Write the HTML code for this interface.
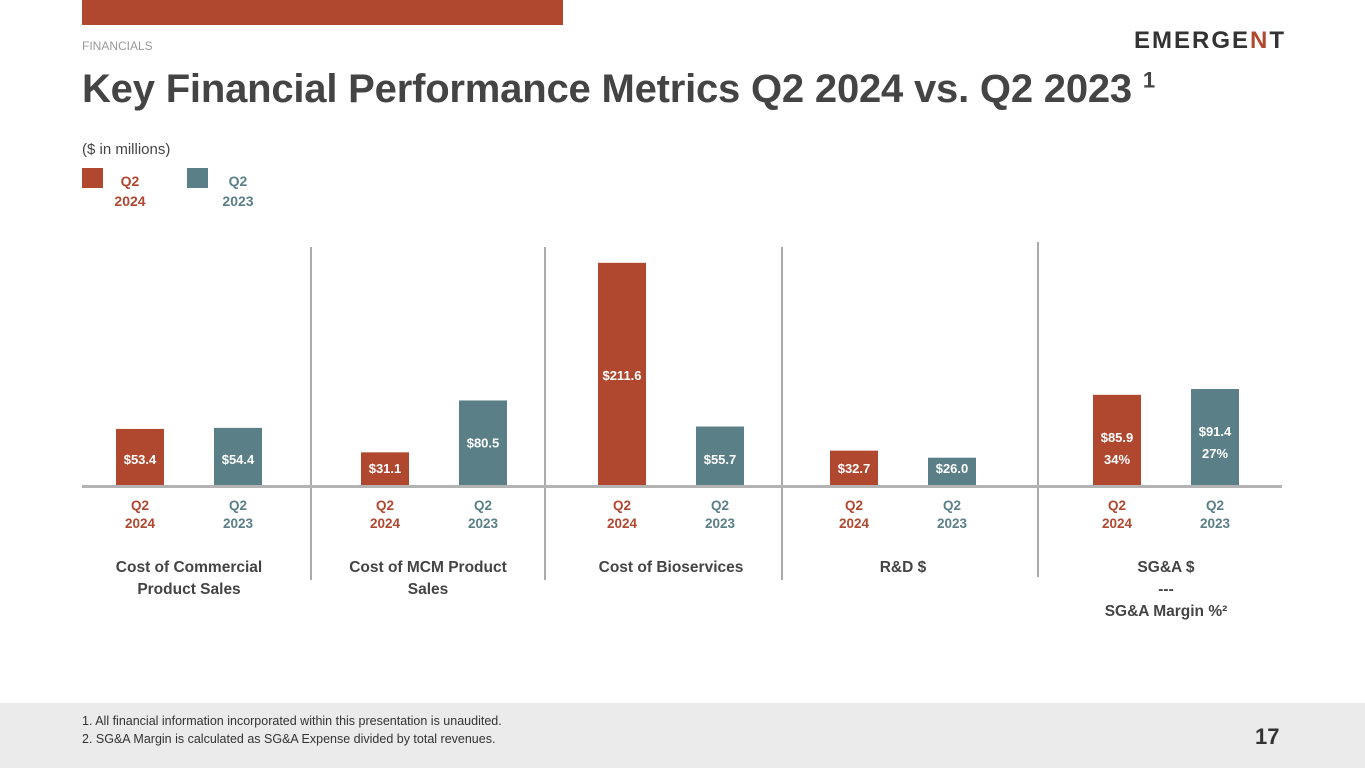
<!DOCTYPE html>
<html><head><meta charset="utf-8"><style>
body{margin:0;width:1365px;height:768px;overflow:hidden;background:#fff;font-family:"Liberation Sans",sans-serif;position:relative}
.abs{position:absolute}
</style></head><body>
<div class="abs" style="left:82px;top:0;width:481px;height:25px;background:#B0472F"></div>
<div class="abs" style="left:82px;top:39px;font-size:12px;color:#999">FINANCIALS</div>
<div class="abs" style="left:1134px;top:27px;font-size:24px;font-weight:bold;letter-spacing:2px;color:#333">EMERGE<span style="color:#B0472F">N</span>T</div>
<div class="abs" style="left:82px;top:67px;font-size:40px;font-weight:bold;color:#444;letter-spacing:-0.2px">Key Financial Performance Metrics Q2 2024 vs. Q2 2023 <sup style="font-size:22px">1</sup></div>
<div class="abs" style="left:82px;top:141px;font-size:15px;color:#444">($ in millions)</div>
<div class="abs" style="left:82px;top:168px;width:21px;height:20px;background:#B0472F"></div>
<div class="abs" style="left:110px;top:171px;width:40px;text-align:center;font-size:14px;font-weight:bold;color:#B0472F;line-height:20px">Q2<br>2024</div>
<div class="abs" style="left:187px;top:168px;width:21px;height:20px;background:#5A7F87"></div>
<div class="abs" style="left:218px;top:171px;width:40px;text-align:center;font-size:14px;font-weight:bold;color:#5A7F87;line-height:20px">Q2<br>2023</div>
<svg id="chart" class="abs" style="left:0;top:0" width="1365" height="700"></svg>
<div class="abs" style="left:0;top:703px;width:1365px;height:65px;background:#EBEBEB"></div>
<div class="abs" style="left:82px;top:712px;font-size:12.5px;color:#333;line-height:18px">1. All financial information incorporated within this presentation is unaudited.<br>2. SG&amp;A Margin is calculated as SG&amp;A Expense divided by total revenues.</div>
<div class="abs" style="left:1255px;top:724px;font-size:22px;font-weight:bold;color:#333">17</div>
<script>
const categories=["Cost of Commercial|Product Sales","Cost of MCM Product|Sales","Cost of Bioservices","R&D $","SG&A $|---|SG&A Margin %²"];
const values2024=[53.4,31.1,211.6,32.7,85.9];
const values2023=[54.4,80.5,55.7,26.0,91.4];
const margin2024=[null,null,null,null,"34%"];
const margin2023=[null,null,null,null,"27%"];
const groupCenters=[189,434,671,903,1166];
const NS="http://www.w3.org/2000/svg";
const svg=document.getElementById('chart');
const base=485, scale=1.05, bw=48;
function y(v){return base-v*scale;}
function el(t,a,txt){const e=document.createElementNS(NS,t);for(const k in a)e.setAttribute(k,a[k]);if(txt!=null)e.textContent=txt;svg.appendChild(e);return e;}
[[311,247,580],[545,247,580],[782,247,580],[1038,242,577]].forEach(d=>{
const l=el('line',{x1:d[0],x2:d[0],y1:d[1],y2:d[2],stroke:'#AAA','stroke-width':2});


});
categories.forEach((c,i)=>{
const cx=groupCenters[i];
[[values2024[i],margin2024[i],'#B0472F',-49,'2024'],[values2023[i],margin2023[i],'#5A7F87',49,'2023']].forEach(s=>{
const x=cx+s[3];
const r=el('rect',{x:x-bw/2,y:y(s[0]),width:bw,height:base-y(s[0]),fill:s[2]});


const h=base-y(s[0]);
let ly=s[1]?y(s[0])+47:(h>70?y(s[0])+47:(h>45?base-21:base-12));
if(s[0]>200)ly=y(s[0])+117;
const t=el('text',{x:x,y:ly,'text-anchor':'middle','font-size':13,'font-weight':'bold',fill:'#fff'},'$'+s[0].toFixed(1));


if(s[1]){const m=el('text',{x:x,y:ly+22,'text-anchor':'middle','font-size':13,'font-weight':'bold',fill:'#fff'},s[1]);

}
['Q2',s[4]].forEach((w,k)=>{const q=el('text',{x:x,y:510+k*18,'text-anchor':'middle','font-size':13.5,'font-weight':'bold',fill:s[2]},w);

});
});
c.split('|').forEach((line,k)=>{const t=el('text',{x:cx+(i==1?-6:0),y:572+k*22,'text-anchor':'middle','font-size':15.5,'font-weight':'bold',fill:'#444'},line);

});
});
const ax=el('line',{x1:82,x2:1282,y1:486.5,y2:486.5,stroke:'#B3B3B3','stroke-width':3});


</script>
</body></html>
